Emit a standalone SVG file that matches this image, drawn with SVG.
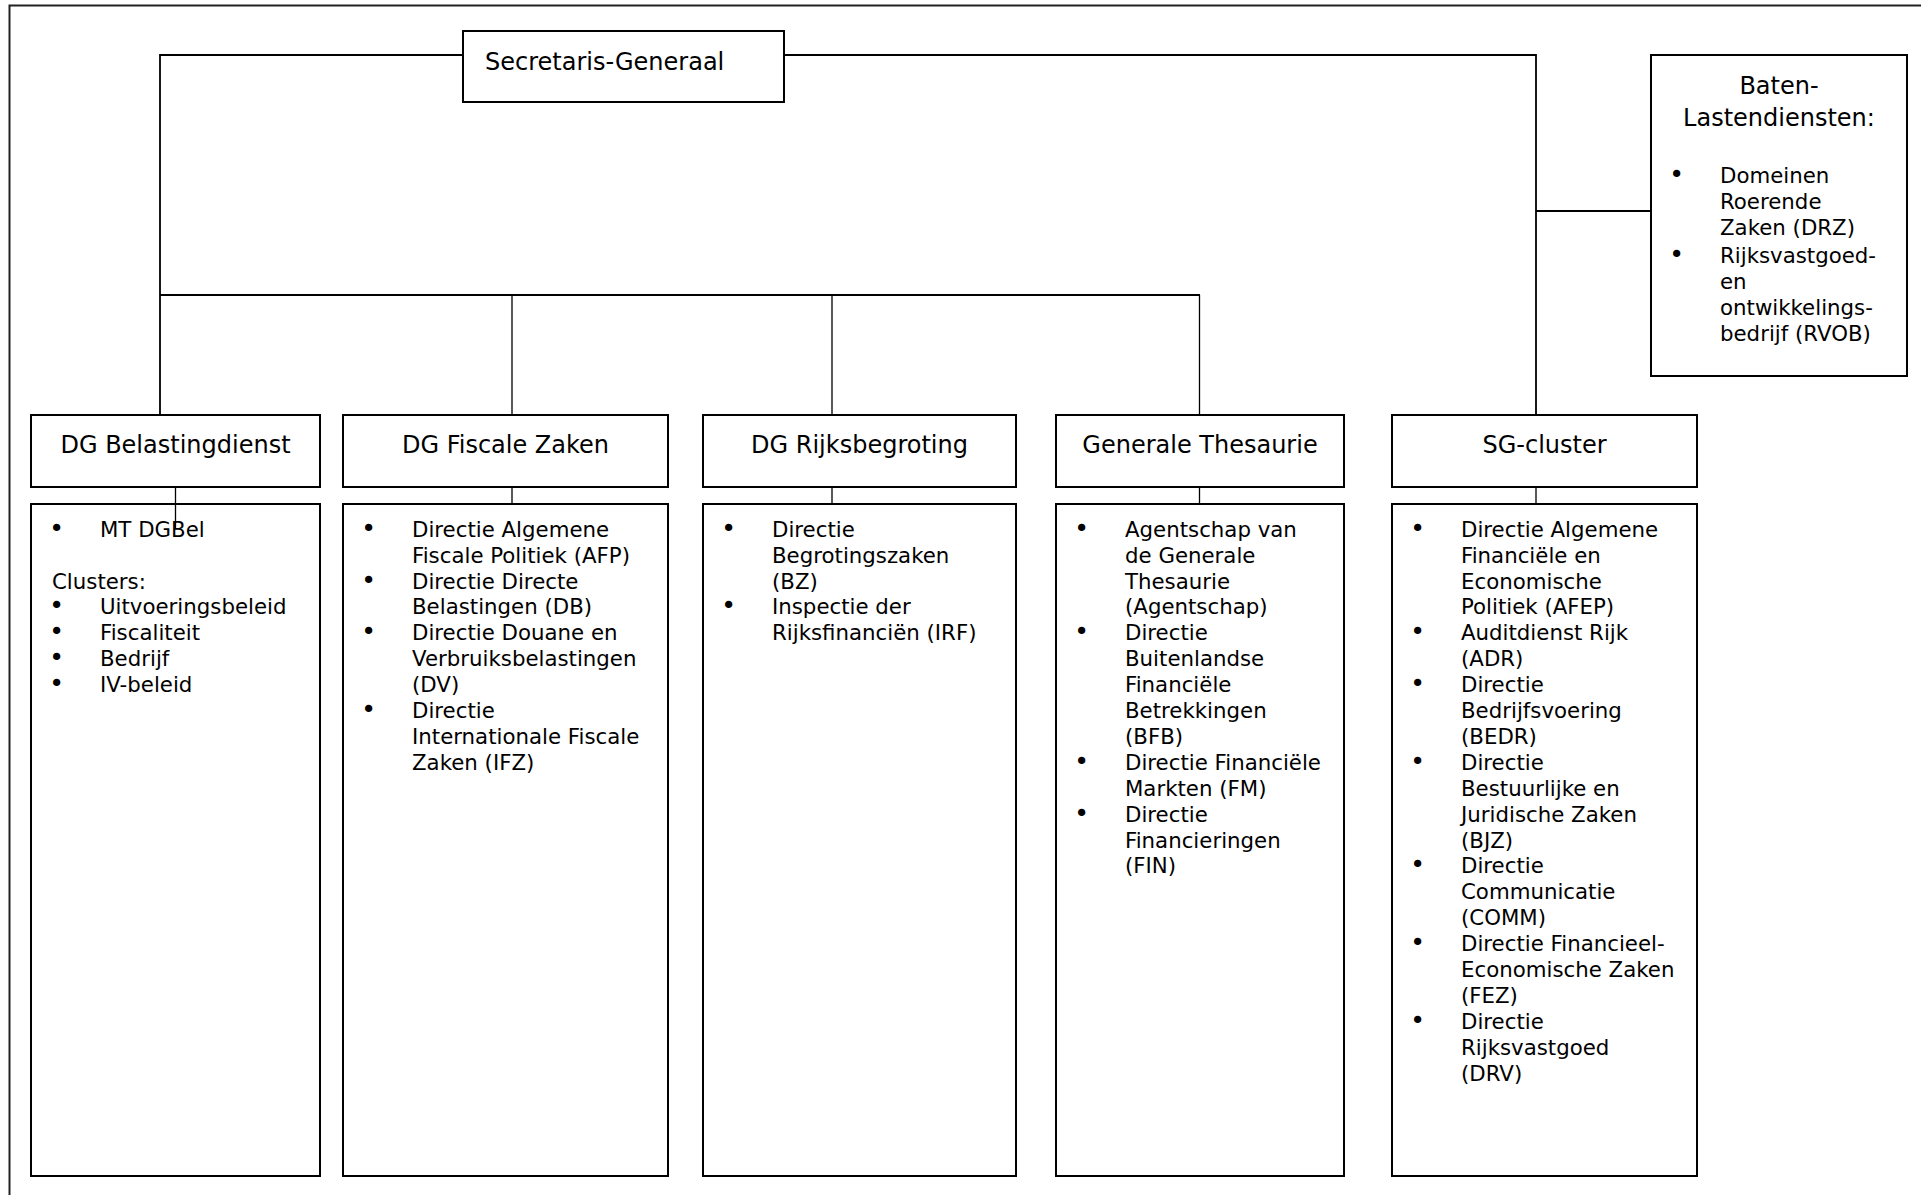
<svg xmlns="http://www.w3.org/2000/svg" width="1921" height="1195" viewBox="0 0 1921 1195">
<style>
  .box{fill:#fff;stroke:#000;stroke-width:2}
  .frame{fill:none;stroke:#222;stroke-width:2}
  .con{fill:none;stroke:#000;stroke-width:1.8}
  .drop{fill:none;stroke:#000;stroke-width:1.3}
  text{font-family:"DejaVu Sans","Liberation Sans",sans-serif;fill:#000}
  .h{font-size:24px}
  .hc{font-size:24px;text-anchor:middle}
  .t{font-size:21.3px}
  .b{font-size:25px;text-anchor:middle}
</style>
<rect width="1921" height="1195" fill="#fff"/>
<path class="frame" d="M9.5 1195 V5.5 H1921"/>

<g id="sg">
  <rect class="box" x="463" y="31" width="321" height="71"/>
  <text class="h" x="485" y="70">Secretaris-Generaal</text>
</g>

<g id="baten">
  <rect class="box" x="1651" y="55" width="256" height="321"/>
  <text class="hc" x="1779" y="94">Baten-</text>
  <text class="hc" x="1779" y="126">Lastendiensten:</text>
  <text class="b" x="1676.5" y="183">•</text>
  <text class="t" x="1720" y="183">Domeinen</text>
  <text class="t" x="1720" y="208.9">Roerende</text>
  <text class="t" x="1720" y="234.8">Zaken (DRZ)</text>
  <text class="b" x="1676.5" y="263">•</text>
  <text class="t" x="1720" y="263">Rijksvastgoed-</text>
  <text class="t" x="1720" y="288.9">en</text>
  <text class="t" x="1720" y="314.8">ontwikkelings-</text>
  <text class="t" x="1720" y="340.7">bedrijf (RVOB)</text>
</g>

<g id="dg-belastingdienst">
  <rect class="box" x="31" y="415" width="289" height="72"/>
  <text class="hc" x="175.5" y="453">DG Belastingdienst</text>
</g>
<g id="dg-belastingdienst-list">
  <rect class="box" x="31" y="504" width="289" height="672"/>
  <text class="b" x="56.5" y="536.7">•</text><text class="t" x="100" y="536.7">MT DGBel</text>
  <text class="t" x="52" y="588.5">Clusters:</text>
  <text class="b" x="56.5" y="614.4">•</text><text class="t" x="100" y="614.4">Uitvoeringsbeleid</text>
  <text class="b" x="56.5" y="640.3">•</text><text class="t" x="100" y="640.3">Fiscaliteit</text>
  <text class="b" x="56.5" y="666.2">•</text><text class="t" x="100" y="666.2">Bedrijf</text>
  <text class="b" x="56.5" y="692.1">•</text><text class="t" x="100" y="692.1">IV-beleid</text>
</g>

<g id="dg-fiscale-zaken">
  <rect class="box" x="343" y="415" width="325" height="72"/>
  <text class="hc" x="505.5" y="453">DG Fiscale Zaken</text>
</g>
<g id="dg-fiscale-zaken-list">
  <rect class="box" x="343" y="504" width="325" height="672"/>
  <text class="b" x="368.5" y="536.7">•</text><text class="t" x="412" y="536.7">Directie Algemene</text>
  <text class="t" x="412" y="562.6">Fiscale Politiek (AFP)</text>
  <text class="b" x="368.5" y="588.5">•</text><text class="t" x="412" y="588.5">Directie Directe</text>
  <text class="t" x="412" y="614.4">Belastingen (DB)</text>
  <text class="b" x="368.5" y="640.3">•</text><text class="t" x="412" y="640.3">Directie Douane en</text>
  <text class="t" x="412" y="666.2">Verbruiksbelastingen</text>
  <text class="t" x="412" y="692.1">(DV)</text>
  <text class="b" x="368.5" y="718">•</text><text class="t" x="412" y="718">Directie</text>
  <text class="t" x="412" y="743.9">Internationale Fiscale</text>
  <text class="t" x="412" y="769.8">Zaken (IFZ)</text>
</g>

<g id="dg-rijksbegroting">
  <rect class="box" x="703" y="415" width="313" height="72"/>
  <text class="hc" x="859.5" y="453">DG Rijksbegroting</text>
</g>
<g id="dg-rijksbegroting-list">
  <rect class="box" x="703" y="504" width="313" height="672"/>
  <text class="b" x="728.5" y="536.7">•</text><text class="t" x="772" y="536.7">Directie</text>
  <text class="t" x="772" y="562.6">Begrotingszaken</text>
  <text class="t" x="772" y="588.5">(BZ)</text>
  <text class="b" x="728.5" y="614.4">•</text><text class="t" x="772" y="614.4">Inspectie der</text>
  <text class="t" x="772" y="640.3">Rijksfinanciën (IRF)</text>
</g>

<g id="generale-thesaurie">
  <rect class="box" x="1056" y="415" width="288" height="72"/>
  <text class="hc" x="1200" y="453">Generale Thesaurie</text>
</g>
<g id="generale-thesaurie-list">
  <rect class="box" x="1056" y="504" width="288" height="672"/>
  <text class="b" x="1081.5" y="536.7">•</text><text class="t" x="1125" y="536.7">Agentschap van</text>
  <text class="t" x="1125" y="562.6">de Generale</text>
  <text class="t" x="1125" y="588.5">Thesaurie</text>
  <text class="t" x="1125" y="614.4">(Agentschap)</text>
  <text class="b" x="1081.5" y="640.3">•</text><text class="t" x="1125" y="640.3">Directie</text>
  <text class="t" x="1125" y="666.2">Buitenlandse</text>
  <text class="t" x="1125" y="692.1">Financiële</text>
  <text class="t" x="1125" y="718">Betrekkingen</text>
  <text class="t" x="1125" y="743.9">(BFB)</text>
  <text class="b" x="1081.5" y="769.8">•</text><text class="t" x="1125" y="769.8">Directie Financiële</text>
  <text class="t" x="1125" y="795.7">Markten (FM)</text>
  <text class="b" x="1081.5" y="821.6">•</text><text class="t" x="1125" y="821.6">Directie</text>
  <text class="t" x="1125" y="847.5">Financieringen</text>
  <text class="t" x="1125" y="873.4">(FIN)</text>
</g>

<g id="sg-cluster">
  <rect class="box" x="1392" y="415" width="305" height="72"/>
  <text class="hc" x="1544.5" y="453">SG-cluster</text>
</g>
<g id="sg-cluster-list">
  <rect class="box" x="1392" y="504" width="305" height="672"/>
  <text class="b" x="1417.5" y="536.7">•</text><text class="t" x="1461" y="536.7">Directie Algemene</text>
  <text class="t" x="1461" y="562.6">Financiële en</text>
  <text class="t" x="1461" y="588.5">Economische</text>
  <text class="t" x="1461" y="614.4">Politiek (AFEP)</text>
  <text class="b" x="1417.5" y="640.3">•</text><text class="t" x="1461" y="640.3">Auditdienst Rijk</text>
  <text class="t" x="1461" y="666.2">(ADR)</text>
  <text class="b" x="1417.5" y="692.1">•</text><text class="t" x="1461" y="692.1">Directie</text>
  <text class="t" x="1461" y="718">Bedrijfsvoering</text>
  <text class="t" x="1461" y="743.9">(BEDR)</text>
  <text class="b" x="1417.5" y="769.8">•</text><text class="t" x="1461" y="769.8">Directie</text>
  <text class="t" x="1461" y="795.7">Bestuurlijke en</text>
  <text class="t" x="1461" y="821.6">Juridische Zaken</text>
  <text class="t" x="1461" y="847.5">(BJZ)</text>
  <text class="b" x="1417.5" y="873.4">•</text><text class="t" x="1461" y="873.4">Directie</text>
  <text class="t" x="1461" y="899.3">Communicatie</text>
  <text class="t" x="1461" y="925.2">(COMM)</text>
  <text class="b" x="1417.5" y="951.1">•</text><text class="t" x="1461" y="951.1">Directie Financieel-</text>
  <text class="t" x="1461" y="977">Economische Zaken</text>
  <text class="t" x="1461" y="1002.9">(FEZ)</text>
  <text class="b" x="1417.5" y="1028.8">•</text><text class="t" x="1461" y="1028.8">Directie</text>
  <text class="t" x="1461" y="1054.7">Rijksvastgoed</text>
  <text class="t" x="1461" y="1080.6">(DRV)</text>
</g>

<g id="connectors">
  <path class="con" d="M463 55 H160 V414"/>
  <path class="con" d="M160 295 H1200"/>
  <path class="drop" d="M512 295 V414 M832 295 V414 M1199.5 295 V414"/>
  <path class="con" d="M784 55 H1536 V414"/>
  <path class="con" d="M1536 211 H1650"/>
  <path class="drop" d="M175.5 488 V528 M512 488 V503 M832 488 V503 M1199.5 488 V503 M1536 488 V503"/>
</g>
</svg>
